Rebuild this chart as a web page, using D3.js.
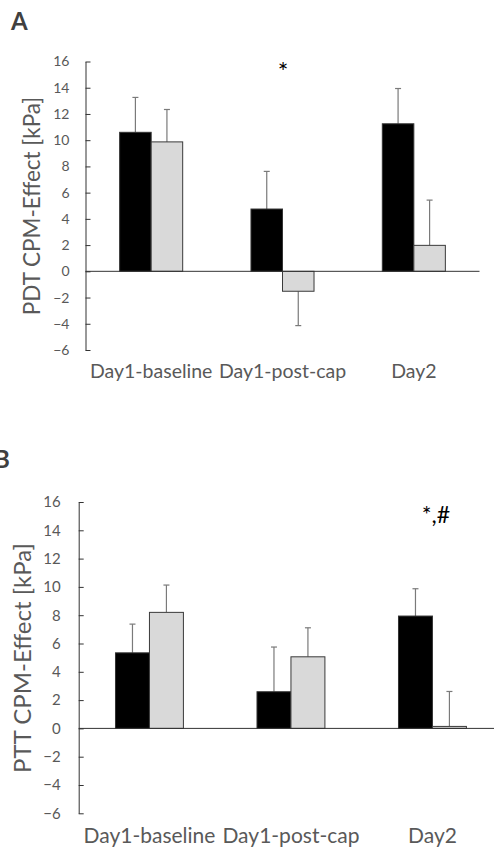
<!DOCTYPE html>
<html>
<head>
<meta charset="utf-8">
<script src="https://cdn.jsdelivr.net/npm/d3@7"></script>
<style>
  body { margin: 0; background: #fff; }
  svg { display: block; font-family: Lato, 'Open Sans', sans-serif; }
</style>
</head>
<body>
<div id="chart"></div>
<script>
// Data
const categories = ['Day1-baseline', 'Day1-post-cap', 'Day2']
const yTicks = [-6, -4, -2, 0, 2, 4, 6, 8, 10, 12, 14, 16]

// panel A - PDT
const pdtBlack = [10.6, 4.75, 11.25]
const pdtBlackSD = [2.66, 2.87, 2.69]
const pdtGrey = [9.87, -1.52, 1.98]
const pdtGreySD = [2.47, 2.62, 3.45]

// panel B - PTT
const pttBlack = [5.34, 2.59, 7.94]
const pttBlackSD = [2.03, 3.16, 1.93]
const pttGrey = [8.2, 5.06, 0.14]
const pttGreySD = [1.93, 2.05, 2.47]

const width = 494
const height = 849

const svg = d3.select('#chart')
  .append('svg')
  .attr('width', width)
  .attr('height', height)

function drawPanel(p) {
  const g = svg.append('g')

  const yScale = d3.scaleLinear()
    .domain([-6, 16])
    .range([p.bottom, p.top])

  const xScale = d3.scaleBand()
    .domain(categories)
    .range([p.left, p.right])
    .paddingInner(0.52)
    .paddingOuter(0.26)

  const sub = d3.scaleBand()
    .domain([0, 1])
    .range([0, xScale.bandwidth()])

  const rows = []
  categories.forEach((c, i) => {
    rows.push({ cat: c, s: 0, v: p.black[i], sd: p.blackSD[i] })
    rows.push({ cat: c, s: 1, v: p.grey[i], sd: p.greySD[i] })
  })

  // error bars (one sided, away from zero)
  const err = g.append('g')
    .selectAll('g')
    .data(rows)
    .join('g')
  const cx = d => xScale(d.cat) + sub(d.s) + sub.bandwidth() / 2
  const tip = d => yScale(d.v >= 0 ? d.v + d.sd : d.v - d.sd)
  err.append('line')
    .attr('x1', cx).attr('x2', cx)
    .attr('y1', d => yScale(d.v)).attr('y2', tip)
    .attr('stroke', '#7a7a7a').attr('stroke-width', 1.2)
  err.append('line')
    .attr('x1', d => cx(d) - 3).attr('x2', d => cx(d) + 3)
    .attr('y1', tip).attr('y2', tip)
    .attr('stroke', '#7a7a7a').attr('stroke-width', 1.2)

  // bars
  g.append('g')
    .selectAll('rect')
    .data(rows)
    .join('rect')
    .attr('x', d => xScale(d.cat) + sub(d.s))
    .attr('width', sub.bandwidth())
    .attr('y', d => yScale(Math.max(0, d.v)))
    .attr('height', d => Math.abs(yScale(d.v) - yScale(0)))
    .attr('fill', d => d.s === 0 ? '#000' : '#d9d9d9')
    .attr('stroke', d => d.s === 0 ? '#333' : '#3a3a3a')
    .attr('stroke-width', 1)

  // y axis
  const yAxis = d3.axisLeft(yScale)
    .tickValues(yTicks)
    .tickSizeInner(-5)
    .tickSizeOuter(0)
    .tickPadding(p.tickPad)

  const yAxisGroup = g.append('g')
    .attr('transform', `translate(${p.left}, 0)`)
    .call(yAxis)
  yAxisGroup.select('.domain').attr('stroke', '#333')
  yAxisGroup.selectAll('.tick line').attr('stroke', '#333')
  yAxisGroup.selectAll('.tick text')
    .attr('fill', '#595959')
    .style('font-size', p.tickFont + 'px')
    .style('font-family', 'Lato, sans-serif')

  // zero line
  g.append('line')
    .attr('x1', p.left).attr('x2', p.zeroEnd)
    .attr('y1', yScale(0)).attr('y2', yScale(0))
    .attr('stroke', '#333').attr('stroke-width', 1)

  // category labels
  g.append('g')
    .selectAll('text')
    .data(categories)
    .join('text')
    .attr('x', d => xScale(d) + xScale.bandwidth() / 2)
    .attr('y', p.catY)
    .attr('text-anchor', 'middle')
    .attr('fill', '#595959')
    .style('font-size', p.catFont + 'px')
    .text(d => d)

  // y title
  g.append('text')
    .attr('transform', `translate(${p.titleX}, ${p.titleY}) rotate(-90)`)
    .attr('text-anchor', 'middle')
    .attr('fill', '#595959')
    .style('font-size', p.titleFont + 'px')
    .text(p.title)

  // panel letter
  g.append('text')
    .attr('x', p.letterX).attr('y', p.letterY)
    .attr('fill', '#404040')
    .style('font-size', '24px')
    .style('font-weight', 'bold')
    .text(p.letter)

  // significance mark
  g.append('text')
    .attr('x', p.markX).attr('y', p.markY)
    .attr('text-anchor', 'middle')
    .attr('fill', '#000')
    .style('font-size', p.markFont + 'px')
    .text(p.mark)
}

drawPanel({
  letter: 'A', letterX: 11, letterY: 30,
  title: 'PDT CPM-Effect [kPa]', titleX: 40, titleY: 206, titleFont: 22.5,
  left: 85.5, right: 479.5, top: 61.5, bottom: 350, zeroEnd: 479.5,
  tickPad: 16, tickFont: 14, catY: 378, catFont: 19.5,
  black: pdtBlack, blackSD: pdtBlackSD, grey: pdtGrey, greySD: pdtGreySD,
  mark: '*', markX: 283, markY: 81, markFont: 25
})

drawPanel({
  letter: 'B', letterX: -6, letterY: 468,
  title: 'PTT CPM-Effect [kPa]', titleX: 31, titleY: 658, titleFont: 24,
  left: 78.7, right: 503.2, top: 502, bottom: 813.3, zeroEnd: 494,
  tickPad: 18, tickFont: 15, catY: 843, catFont: 21,
  black: pttBlack, blackSD: pttBlackSD, grey: pttGrey, greySD: pttGreySD,
  mark: '*,#', markX: 436, markY: 523, markFont: 23
})
</script>
</body>
</html>
